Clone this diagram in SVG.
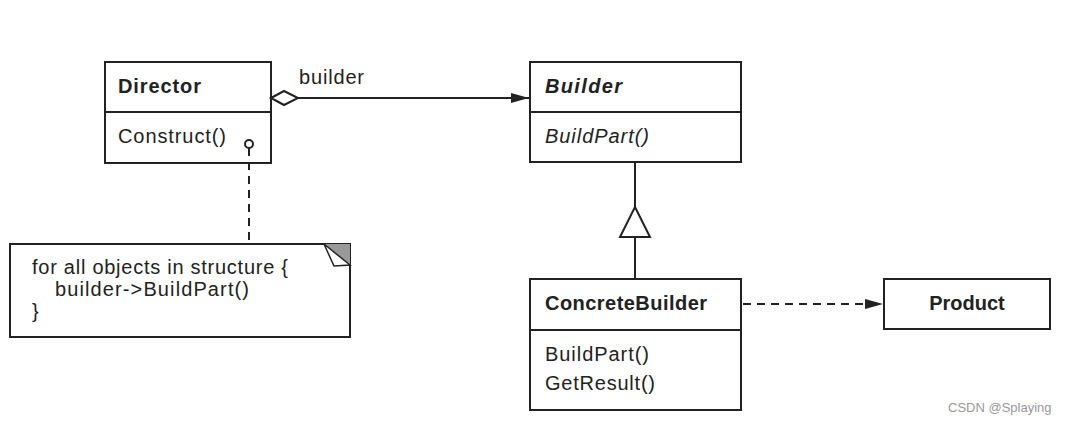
<svg xmlns="http://www.w3.org/2000/svg" width="1065" height="424" viewBox="0 0 1065 424">
<style>
.box{fill:#fff;stroke:#222;stroke-width:2}
.ln{fill:none;stroke:#222;stroke-width:2}
.t{font-family:"Liberation Sans",Arial,sans-serif;font-size:20px;fill:#222}
.b{font-weight:bold}
.i{font-style:italic}
</style>
<defs>
<marker id="fa" markerWidth="20" markerHeight="12" refX="19" refY="6" orient="auto" markerUnits="userSpaceOnUse">
<path d="M1,1 L19,6 L1,11 Z" fill="#222"/>
</marker>
</defs>
<rect width="1065" height="424" fill="#fff"/>
<g id="director">
<rect class="box" x="105" y="62" width="166" height="101"/>
<line class="ln" x1="105" y1="112" x2="271" y2="112"/>
<text class="t b" x="118" y="93" textLength="83">Director</text>
<text class="t" x="118" y="143" textLength="108">Construct()</text>
</g>
<g id="builder">
<rect class="box" x="530" y="62" width="211" height="100"/>
<line class="ln" x1="530" y1="112" x2="741" y2="112"/>
<text class="t b i" x="545" y="93" textLength="77">Builder</text>
<text class="t i" x="545" y="143" textLength="104">BuildPart()</text>
</g>
<g id="concretebuilder">
<rect class="box" x="530" y="279" width="211" height="131"/>
<line class="ln" x1="530" y1="330" x2="741" y2="330"/>
<text class="t b" x="545" y="310" textLength="162">ConcreteBuilder</text>
<text class="t" x="545" y="361" textLength="104">BuildPart()</text>
<text class="t" x="545" y="390" textLength="110">GetResult()</text>
</g>
<g id="product">
<rect class="box" x="884" y="279" width="166" height="50"/>
<text class="t b" x="967" y="310" text-anchor="middle">Product</text>
</g>
<g id="note">
<path class="box" d="M10,244 L350,244 L350,337 L10,337 Z"/>
<path d="M324,244 L350,244 L350,265 Z" fill="#999"/>
<path d="M324,244 L350,265 L334,266 Z" fill="#fff" stroke="#222" stroke-width="1.5"/>
<text class="t" x="32" y="274" textLength="256">for all objects in structure {</text>
<text class="t" x="55" y="296" textLength="194">builder-&gt;BuildPart()</text>
<text class="t" x="32" y="318">}</text>
</g>
<g id="connectors">
<path d="M271,98 L284,91 L298,98 L284,105 Z" fill="#fff" stroke="#222" stroke-width="2"/>
<line class="ln" x1="298" y1="98" x2="529" y2="98" marker-end="url(#fa)"/>
<text class="t" x="299" y="84" textLength="65">builder</text>
<line class="ln" x1="635" y1="162" x2="635" y2="207"/>
<path d="M635,207 L650,237 L620,237 Z" fill="#fff" stroke="#222" stroke-width="2"/>
<line class="ln" x1="635" y1="237" x2="635" y2="279"/>
<line class="ln" x1="743" y1="304" x2="883" y2="304" stroke-dasharray="8,6" marker-end="url(#fa)"/>
<circle cx="249" cy="144" r="4" fill="#fff" stroke="#222" stroke-width="2"/>
<line class="ln" x1="249" y1="148" x2="249" y2="244" stroke-dasharray="8,6"/>
</g>
<text x="948" y="412" font-family="Liberation Sans,Arial,sans-serif" font-size="13" fill="#999">CSDN @Splaying</text>
</svg>
